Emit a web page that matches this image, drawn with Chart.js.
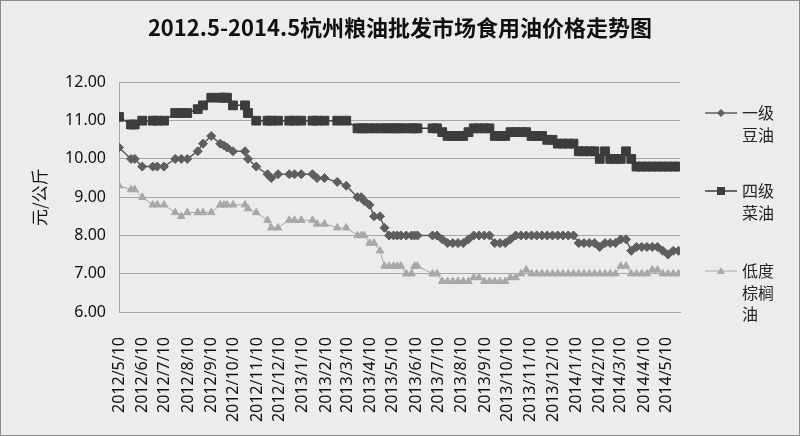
<!DOCTYPE html>
<html>
<head>
<meta charset="utf-8">
<script src="https://cdn.jsdelivr.net/npm/chart.js@4.4.0/dist/chart.umd.min.js"></script>
<style>
  html, body { margin: 0; padding: 0; background: #ececec; }
  canvas { display: block; }
</style>
</head>
<body>
<canvas id="oilChart" width="800" height="436"></canvas>
<script>
// Chart data
var chartTitle = '2012.5-2014.5杭州粮油批发市场食用油价格走势图';
var seriesNames = ['一级豆油', '四级菜油', '低度棕榈油'];

var tickLabels = ['2012/5/10', '2012/6/10', '2012/7/10', '2012/8/10', '2012/9/10', '2012/10/10',
    '2012/11/10', '2012/12/10', '2013/1/10', '2013/2/10', '2013/3/10', '2013/4/10', '2013/5/10',
    '2013/6/10', '2013/7/10', '2013/8/10', '2013/9/10', '2013/10/10', '2013/11/10', '2013/12/10',
    '2014/1/10', '2014/2/10', '2014/3/10', '2014/4/10', '2014/5/10'];

// days since 2012/5/10 for each price quote
var quoteDays = [0, 16, 21, 31, 45, 51, 60, 75, 83, 91,
    105, 112, 123, 135, 140, 144, 152, 168, 172, 183,
    198, 203, 212, 227, 234, 243, 258, 264, 274, 291,
    303, 318, 323, 327, 334, 340, 348, 354, 360, 366,
    371, 376, 383, 390, 394, 398, 418, 424, 431,
    438, 445, 452, 459, 466, 473, 480, 487, 494, 501,
    508, 515, 522, 529, 536, 543, 550, 557, 564, 571,
    578, 585, 592, 599, 606, 613, 620, 627, 634, 641,
    648, 655, 662, 669, 676, 683, 690, 697, 704, 711,
    718, 725, 732, 739, 746];

var soybeanOil = [10.3, 10.0, 10.0, 9.8, 9.8, 9.8, 9.8, 10.0, 10.0, 10.0,
    10.2, 10.4, 10.6, 10.4, 10.35, 10.3, 10.2, 10.2, 10.0, 9.8,
    9.6, 9.5, 9.6, 9.6, 9.6, 9.6, 9.6, 9.5, 9.5, 9.4,
    9.3, 9.0, 9.0, 8.9, 8.8, 8.5, 8.5, 8.2, 8.0, 8.0,
    8.0, 8.0, 8.0, 8.0, 8.0, 8.0, 8.0, 8.0, 7.9,
    7.8, 7.8, 7.8, 7.8, 7.9, 8.0, 8.0, 8.0, 8.0, 7.8,
    7.8, 7.8, 7.9, 8.0, 8.0, 8.0, 8.0, 8.0, 8.0, 8.0,
    8.0, 8.0, 8.0, 8.0, 8.0, 7.8, 7.8, 7.8, 7.8, 7.7,
    7.8, 7.8, 7.8, 7.9, 7.9, 7.6, 7.7, 7.7, 7.7, 7.7,
    7.7, 7.6, 7.5, 7.6, 7.6];

var rapeseedOil = [11.1, 10.9, 10.9, 11.0, 11.0, 11.0, 11.0, 11.2, 11.2, 11.2,
    11.3, 11.4, 11.6, 11.6, 11.6, 11.6, 11.4, 11.4, 11.2, 11.0,
    11.0, 11.0, 11.0, 11.0, 11.0, 11.0, 11.0, 11.0, 11.0, 11.0,
    11.0, 10.8, 10.8, 10.8, 10.8, 10.8, 10.8, 10.8, 10.8, 10.8,
    10.8, 10.8, 10.8, 10.8, 10.8, 10.8, 10.8, 10.8, 10.7,
    10.6, 10.6, 10.6, 10.6, 10.7, 10.8, 10.8, 10.8, 10.8, 10.6,
    10.6, 10.6, 10.7, 10.7, 10.7, 10.7, 10.6, 10.6, 10.6, 10.5,
    10.5, 10.4, 10.4, 10.4, 10.4, 10.2, 10.2, 10.2, 10.2, 10.0,
    10.2, 10.0, 10.0, 10.0, 10.2, 10.0, 9.8, 9.8, 9.8, 9.8,
    9.8, 9.8, 9.8, 9.8, 9.8];

var palmOil = [9.3, 9.2, 9.2, 9.0, 8.8, 8.8, 8.8, 8.6, 8.5, 8.6,
    8.6, 8.6, 8.6, 8.8, 8.8, 8.8, 8.8, 8.8, 8.7, 8.6,
    8.4, 8.2, 8.2, 8.4, 8.4, 8.4, 8.4, 8.3, 8.3, 8.2,
    8.2, 8.0, 8.0, 8.0, 7.8, 7.8, 7.6, 7.2, 7.2, 7.2,
    7.2, 7.2, 7.0, 7.0, 7.2, 7.2, 7.0, 7.0, 6.8,
    6.8, 6.8, 6.8, 6.8, 6.8, 6.9, 6.9, 6.8, 6.8, 6.8,
    6.8, 6.8, 6.9, 6.9, 7.0, 7.1, 7.0, 7.0, 7.0, 7.0,
    7.0, 7.0, 7.0, 7.0, 7.0, 7.0, 7.0, 7.0, 7.0, 7.0,
    7.0, 7.0, 7.0, 7.2, 7.2, 7.0, 7.0, 7.0, 7.0, 7.1,
    7.1, 7.0, 7.0, 7.0, 7.0];

var yTicks = [6, 7, 8, 9, 10, 11, 12];

// day offset of a 'yyyy/m/d' label from the first label
function dayOffset(label) {
    var p = label.split('/').map(Number);
    return Math.round((Date.UTC(p[0], p[1] - 1, p[2]) - Date.UTC(2012, 4, 10)) / 86400000);
}
var tickDays = tickLabels.map(dayOffset);

function toPoints(values) {
    return quoteDays.map(function (d, i) { return { x: d, y: values[i] }; });
}

var cjk = '"Noto Sans CJK SC", "Noto Sans", sans-serif';
var latin = '"Noto Sans", sans-serif';
var colors = ['#5e5e5e', '#3c3c3c', '#a8a8a8'];
var styles = ['rectRot', 'rect', 'triangle'];

// background, frame and a wrapped legend on the right
var decorPlugin = {
    id: 'decor',
    beforeDraw: function (chart) {
        var ctx = chart.ctx;
        ctx.save();
        ctx.fillStyle = '#ececec';
        ctx.fillRect(0, 0, chart.width, chart.height);
        ctx.strokeStyle = '#8a8a8a';
        ctx.lineWidth = 1;
        ctx.strokeRect(0.5, 0.5, chart.width - 1, chart.height - 1);
        ctx.restore();
    },
    afterDraw: function (chart) {
        var ctx = chart.ctx;
        var rowsY = [113, 191, 271];
        ctx.save();
        seriesNames.forEach(function (name, i) {
            var y = rowsY[i];
            ctx.strokeStyle = colors[i];
            ctx.fillStyle = colors[i];
            ctx.lineWidth = i === 2 ? 1 : 1.5;
            ctx.beginPath();
            ctx.moveTo(705, y);
            ctx.lineTo(737, y);
            ctx.stroke();
            ctx.beginPath();
            if (styles[i] === 'rect') {
                ctx.rect(717, y - 4, 8, 8);
            } else if (styles[i] === 'rectRot') {
                ctx.moveTo(721, y - 4); ctx.lineTo(725, y); ctx.lineTo(721, y + 4); ctx.lineTo(717, y);
            } else {
                ctx.moveTo(721, y - 4); ctx.lineTo(725, y + 3); ctx.lineTo(717, y + 3);
            }
            ctx.closePath();
            ctx.fill();
            ctx.fillStyle = '#262626';
            ctx.font = '16px ' + cjk;
            ctx.textBaseline = 'middle';
            ctx.textAlign = 'left';
            for (var k = 0; k * 2 < name.length; k++) {
                ctx.fillText(name.substr(k * 2, 2), 742, y + k * 21.5);
            }
        });
        ctx.restore();
    }
};

var ctx = document.getElementById('oilChart').getContext('2d');
var oilChart = new Chart(ctx, {
    type: 'line',
    data: {
        datasets: [
            {
                label: seriesNames[0], data: toPoints(soybeanOil),
                borderColor: colors[0], backgroundColor: colors[0], borderWidth: 1.5,
                pointStyle: 'rectRot', pointRadius: 4.5, pointBorderWidth: 1,
                pointBackgroundColor: colors[0], pointBorderColor: colors[0]
            },
            {
                label: seriesNames[1], data: toPoints(rapeseedOil),
                borderColor: colors[1], backgroundColor: colors[1], borderWidth: 1.5,
                pointStyle: 'rect', pointRadius: 6.2, pointBorderWidth: 1,
                pointBackgroundColor: colors[1], pointBorderColor: colors[1]
            },
            {
                label: seriesNames[2], data: toPoints(palmOil),
                borderColor: colors[2], backgroundColor: colors[2], borderWidth: 1,
                pointStyle: 'triangle', pointRadius: 4.3, pointBorderWidth: 1,
                pointBackgroundColor: colors[2], pointBorderColor: colors[2]
            }
        ]
    },
    options: {
        responsive: false,
        animation: false,
        layout: { padding: 0 },
        elements: { line: { tension: 0 } },
        plugins: {
            legend: { display: false },
            tooltip: { enabled: false },
            title: {
                display: true,
                text: chartTitle,
                color: '#111',
                font: { family: cjk, size: 22, weight: 'bold' },
                padding: { top: 14, bottom: 42 }
            }
        },
        scales: {
            x: {
                type: 'linear',
                min: 0,
                max: 748,
                afterFit: function (scale) { scale.height = 124; },
                afterBuildTicks: function (scale) {
                    scale.ticks = tickDays.map(function (d) { return { value: d }; });
                },
                grid: { display: false },
                border: { display: true, color: '#a6a6a6' },
                ticks: {
                    autoSkip: false,
                    minRotation: 90,
                    maxRotation: 90,
                    padding: 17,
                    color: '#111',
                    font: { family: latin, size: 16 },
                    callback: function (value, index) { return tickLabels[index]; }
                }
            },
            y: {
                min: yTicks[0],
                max: yTicks[yTicks.length - 1],
                afterFit: function (scale) { scale.width = 119; },
                afterBuildTicks: function (scale) {
                    scale.ticks = yTicks.map(function (v) { return { value: v }; });
                },
                grid: { color: '#a6a6a6', drawTicks: false },
                border: { display: true, color: '#a6a6a6' },
                title: {
                    display: true,
                    text: '元/公斤',
                    color: '#111',
                    font: { family: cjk, size: 17 },
                    padding: { top: 29, bottom: 0 }
                },
                ticks: {
                    padding: 13,
                    color: '#111',
                    font: { family: latin, size: 16 },
                    callback: function (v) { return Number(v).toFixed(2); }
                }
            },
            legendSpace: {
                position: 'right',
                min: 0,
                max: 1,
                afterFit: function (scale) { scale.width = 120; },
                grid: { display: false },
                border: { display: false },
                ticks: { display: false }
            }
        }
    },
    plugins: [decorPlugin]
});
</script>
</body>
</html>
